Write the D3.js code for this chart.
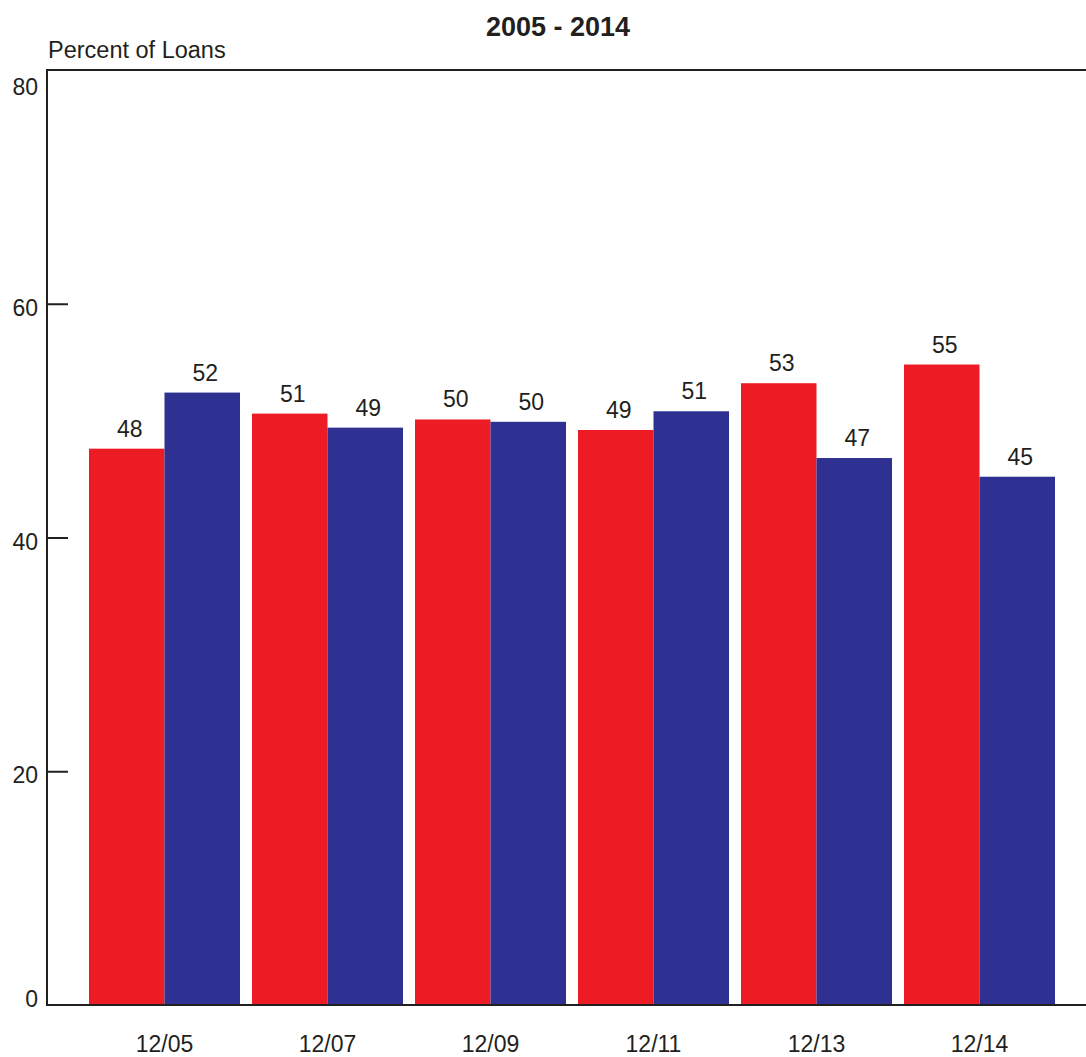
<!DOCTYPE html>
<html>
<head>
<meta charset="utf-8">
<script src="https://cdn.jsdelivr.net/npm/d3@7"></script>
<style>
  html, body { margin: 0; padding: 0; background: #fff; }
  text { font-family: "Liberation Sans", Arial, Helvetica, sans-serif; fill: #231f20; }
</style>
</head>
<body>
<svg id="chart" width="1086" height="1057"></svg>
<script>
const categories = ["12/05", "12/07", "12/09", "12/11", "12/13", "12/14"];
const seriesNames = ["Series A", "Series B"];
const seriesA = [47.6, 50.6, 50.1, 49.2, 53.2, 54.8];
const seriesB = [52.4, 49.4, 49.9, 50.8, 46.8, 45.2];
const yTicks = [0, 20, 40, 60, 80];
const chartTitle = "2005 - 2014";
const yTitle = "Percent of Loans";
const colors = ["#ed1c24", "#2e3192"];

(function () {
const svg = d3.select("#chart");
const W = 1086;
const mLeft = 47, mTop = 70, mBottom = 1005;
const ink = "#231f20";

const y = d3.scaleLinear().domain([0, 80]).range([mBottom, mTop]);
const pInner = 12 / 163;
const x = d3.scaleBand().domain(categories).range([83, 1061])
  .paddingInner(pInner).paddingOuter(pInner / 2);
const xs = d3.scaleBand().domain(seriesNames).range([0, x.bandwidth()]);

const data = categories.map((c, i) => ({ cat: c, vals: [seriesA[i], seriesB[i]] }));

// Bars
const groups = svg.append("g").selectAll("g").data(data).join("g")
  .attr("transform", d => `translate(${x(d.cat)},0)`);
groups.selectAll("rect").data(d => d.vals.map((v, k) => ({ v, k })))
  .join("rect")
  .attr("x", d => xs(seriesNames[d.k]))
  .attr("width", xs.bandwidth())
  .attr("y", d => y(d.v))
  .attr("height", d => y(0) - y(d.v))
  .attr("fill", d => colors[d.k]);
groups.selectAll("text").data(d => d.vals.map((v, k) => ({ v, k })))
  .join("text")
  .attr("x", d => xs(seriesNames[d.k]) + xs.bandwidth() / 2 + 3)
  .attr("y", d => y(d.v) - 12)
  .attr("text-anchor", "middle")
  .style("font-size", "23px")
  .text(d => d3.format(".0f")(d.v));

// Frame lines
svg.append("line").attr("x1", mLeft).attr("x2", W).attr("y1", mTop).attr("y2", mTop)
  .attr("stroke", ink).attr("stroke-width", 2);
svg.append("line").attr("x1", mLeft).attr("x2", W).attr("y1", mBottom).attr("y2", mBottom)
  .attr("stroke", ink).attr("stroke-width", 2);

// Y axis (ticks pointing inward)
const yAxis = d3.axisRight(y).tickValues(yTicks.filter(t => t > 0 && t < 80))
  .tickSize(21).tickFormat("");
const ya = svg.append("g").attr("transform", `translate(${mLeft},0)`).call(yAxis);
ya.select(".domain").remove();
ya.selectAll(".tick line").attr("stroke", ink).attr("stroke-width", 2);
svg.append("line").attr("x1", mLeft).attr("x2", mLeft).attr("y1", mTop - 1).attr("y2", mBottom + 1)
  .attr("stroke", ink).attr("stroke-width", 2);

// Y tick labels
svg.append("g").selectAll("text").data(yTicks).join("text")
  .attr("x", 38)
  .attr("y", d => Math.max(y(80) + 25, Math.min(y(0) + 2, y(d) + 12)))
  .attr("text-anchor", "end")
  .style("font-size", "23px")
  .text(d => d);

// X labels
svg.append("g").selectAll("text").data(categories).join("text")
  .attr("x", d => x(d) + x.bandwidth() / 2)
  .attr("y", 1052)
  .attr("text-anchor", "middle")
  .style("font-size", "23px")
  .text(d => d);

// Titles
svg.append("text").attr("x", 558).attr("y", 36).attr("text-anchor", "middle")
  .style("font-size", "27px").style("font-weight", "bold").text(chartTitle);
svg.append("text").attr("x", 48).attr("y", 58)
  .style("font-size", "23.5px").text(yTitle);
})();
</script>
</body>
</html>
